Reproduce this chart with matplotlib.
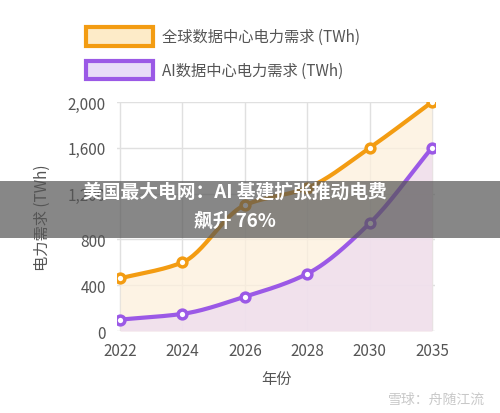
import numpy as np
import matplotlib
matplotlib.use("Agg")
import matplotlib.pyplot as plt
from matplotlib.patches import Rectangle

plt.rcParams['font.family'] = ['Noto Sans CJK SC', 'DejaVu Sans']

years = ['2022', '2024', '2026', '2028', '2030', '2035']
total = [460, 600, 1100, 1250, 1600, 2000]
ai = [100, 150, 300, 500, 940, 1600]
name_total = '全球数据中心电力需求 (TWh)'
name_ai = 'AI数据中心电力需求 (TWh)'
c_or = '#f39c12'
c_pu = '#9b59e6'

def monotone(x, y, n=30):
    x = np.asarray(x, float); y = np.asarray(y, float)
    h = np.diff(x); d = np.diff(y) / h
    m = np.zeros_like(y)
    m[0], m[-1] = d[0], d[-1]
    for i in range(1, len(y) - 1):
        m[i] = 0 if d[i-1] * d[i] <= 0 else (h[i-1] + h[i]) * 3 / ((2*h[i] + h[i-1]) / d[i-1] + (h[i] + 2*h[i-1]) / d[i])
    xs, ys = [], []
    for i in range(len(h)):
        t = np.linspace(0, 1, n)
        h00 = 2*t**3 - 3*t**2 + 1; h10 = t**3 - 2*t**2 + t
        h01 = -2*t**3 + 3*t**2; h11 = t**3 - t**2
        xs.append(x[i] + t*h[i])
        ys.append(h00*y[i] + h10*h[i]*m[i] + h01*y[i+1] + h11*h[i]*m[i+1])
    return np.concatenate(xs), np.concatenate(ys)

fig = plt.figure(figsize=(5, 4.14), dpi=100)
fig.patch.set_facecolor('white')
ax = fig.add_axes([0.234, 0.198, 0.636, 0.553])
x = np.arange(len(years))
for vals, c, fc in [(total, c_or, '#fdf0dc'), (ai, c_pu, '#eddcf0')]:
    sx, sy = monotone(x, vals)
    ax.fill_between(sx, 0, sy, color=fc, alpha=0.75, lw=0, zorder=1)
for vals, c in [(total, c_or), (ai, c_pu)]:
    sx, sy = monotone(x, vals)
    ax.plot(sx, sy, color=c, lw=3, zorder=3)
    ax.scatter(x, vals, s=40, facecolor='white', edgecolor=c, linewidth=2.5, zorder=4)
ax.set_xlim(-0.05, 5.05)
ax.set_ylim(0, 2000)
ax.set_yticks([0, 400, 800, 1200, 1600, 2000])
ax.set_yticklabels(['0', '400', '800', '1,200', '1,600', '2,000'])
ax.set_xticks(x)
ax.set_xticklabels(years)
ax.grid(True, color='#e0e0e0', lw=1)
ax.set_axisbelow(True)
for s in ax.spines.values():
    s.set_visible(False)
ax.tick_params(length=0, labelsize=11, colors='#555555', pad=8)
ax.set_xlabel('年份', fontsize=11, color='#555555', labelpad=8)
ax.set_ylabel('电力需求 (TWh)', fontsize=11, color='#555555', labelpad=12)

# legend
for yy, c, fc, txt in [(0.887, c_or, '#fdebc8', name_total), (0.806, c_pu, '#e8dcf8', name_ai)]:
    fig.patches.append(Rectangle((0.172, yy), 0.134, 0.045, transform=fig.transFigure,
                                 facecolor=fc, edgecolor=c, lw=3))
    fig.text(0.325, yy + 0.022, txt, fontsize=11, color='#555555', va='center')

# banner
fig.patches.append(Rectangle((0, 0.423), 1.0, 0.138, transform=fig.transFigure,
                             facecolor='#555555', alpha=0.7, edgecolor='none', zorder=10))
fig.text(0.47, 0.537, '美国最大电网：AI 基建扩张推动电费', color='white', fontsize=13.5,
         fontweight='bold', ha='center', va='center', zorder=11)
fig.text(0.47, 0.466, '飙升 76%', color='white', fontsize=13.5,
         fontweight='bold', ha='center', va='center', zorder=11)
fig.text(0.97, 0.035, '雪球：舟随江流', color='#bbbbbb', fontsize=10, ha='right', va='center', alpha=0.8)
fig.savefig('out.png', dpi=100)
